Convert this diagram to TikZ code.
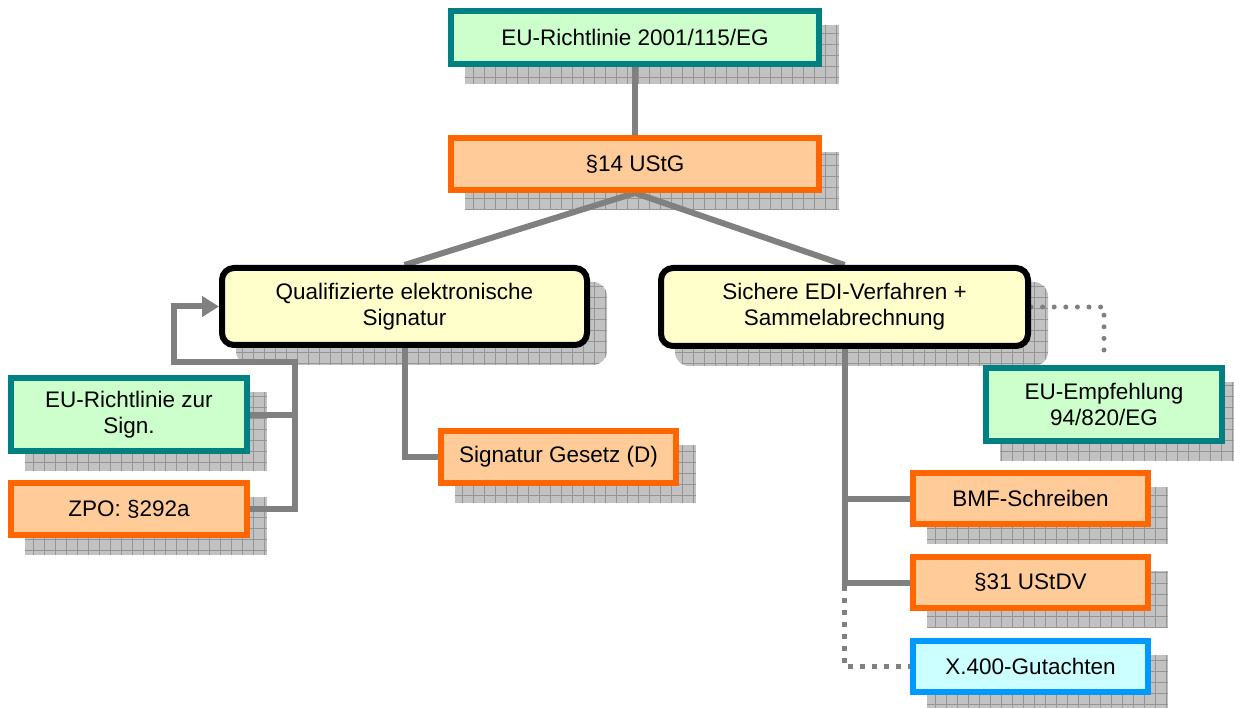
\documentclass[tikz,border=0pt]{standalone}
\usepackage{fontspec}
\setmainfont{Liberation Sans}
\usetikzlibrary{arrows.meta}
\definecolor{tealb}{HTML}{008080}
\definecolor{greenf}{HTML}{CCFFCC}
\definecolor{orangeb}{HTML}{FF6600}
\definecolor{orangef}{HTML}{FFCC99}
\definecolor{yellowf}{HTML}{FFFFCC}
\definecolor{blueb}{HTML}{0099FF}
\definecolor{cyanf}{HTML}{CCFFFF}
\definecolor{conngray}{HTML}{808080}
\definecolor{shadowf}{HTML}{C2C2C2}
\definecolor{gridgray}{HTML}{959595}
\pgfdeclarelayer{bg}
\pgfdeclarelayer{mid}
\pgfsetlayers{bg,mid,main}
\begin{document}
\begin{tikzpicture}[x=1pt,y=-1pt,
  box/.style={draw, line width=6pt, inner sep=0pt, align=center,
    font=\fontsize{22.5}{26}\selectfont},
  greenbox/.style={box, draw=tealb, fill=greenf},
  orangebox/.style={box, draw=orangeb, fill=orangef},
  yellowbox/.style={box, draw=black, fill=yellowf, rounded corners=12pt},
  cyanbox/.style={box, draw=blueb, fill=cyanf},
  shadowbox/.style={fill=shadowf,
    path picture={\draw[gridgray, line width=0.8pt, step=11pt]
      (path picture bounding box.south west) grid (path picture bounding box.north east);}},
  conn/.style={draw=conngray, line width=6pt},
  squaredots/.style={draw=conngray, line width=5pt, dash pattern=on 5pt off 7pt},
  rounddots/.style={draw=conngray, line width=5pt, line cap=round, dash pattern=on 0pt off 11.6pt},
]
\useasboundingbox (0,0) rectangle (1234,708);

% nodes
\node[greenbox, minimum width=368pt, minimum height=53pt] (eu) at (635,37.5) {EU-Richtlinie 2001/115/EG};
\node[orangebox, minimum width=368pt, minimum height=52pt] (p14) at (635,164) {§14 UStG};
\node[yellowbox, minimum width=365pt, minimum height=77pt] (qual) at (404.5,306.5) {Qualifizierte elektronische\\Signatur};
\node[yellowbox, minimum width=367pt, minimum height=78pt] (sich) at (844.5,307) {Sichere EDI-Verfahren +\\Sammelabrechnung};
\node[greenbox, minimum width=236pt, minimum height=73pt] (eusign) at (129,414.5) {EU-Richtlinie zur\\Sign.};
\node[orangebox, minimum width=236pt, minimum height=52pt] (zpo) at (129,509) {ZPO: §292a};
\node[orangebox, minimum width=235pt, minimum height=52pt] (sig) at (558.5,457) {Signatur Gesetz (D)};
\node[greenbox, minimum width=236pt, minimum height=73pt] (euemp) at (1104,404.5) {EU-Empfehlung\\94/820/EG};
\node[orangebox, minimum width=235pt, minimum height=51pt] (bmf) at (1030.5,498.5) {BMF-Schreiben};
\node[orangebox, minimum width=235pt, minimum height=51pt] (s31) at (1030.5,582.5) {§31 UStDV};
\node[cyanbox, minimum width=235pt, minimum height=51pt] (xg) at (1030.5,666.5) {X.400-Gutachten};

% shadows
\begin{pgfonlayer}{bg}
\foreach \n in {eu,p14,eusign,zpo,sig,euemp,bmf,s31,xg}
  \path[shadowbox] ([shift={(17,17)}]\n.north west) rectangle ([shift={(17,17)}]\n.south east);
\foreach \n in {qual,sich}
  \path[shadowbox, rounded corners=14pt] ([shift={(17,17)}]\n.north west) rectangle ([shift={(17,17)}]\n.south east);
\end{pgfonlayer}

% connectors
\coordinate (j1) at (295,362);
\coordinate (j2) at (174,362);
\begin{pgfonlayer}{mid}
\draw[conn] (eu.south) -- (p14.north);
\draw[conn] (p14.south) -- (qual.north);
\draw[conn] (p14.south) -- (sich.north);
\draw[conn] (qual.south) |- (sig.west);
\draw[conn, -{Triangle[length=17pt,width=20pt]}] (zpo.east) -| (j1) -- (j2) |- (qual.west);
\draw[conn] (eusign.east) -- (eusign.east -| j1);
\draw[conn] (sich.south) |- (s31.west);
\draw[conn] (sich.south |- bmf.west) -- (bmf.west);
\draw[squaredots] ([yshift=-3pt]sich.south |- s31.west) |- (xg.west);
\draw[rounddots, shorten >=11pt] (sich.east) -| (euemp.north);
\end{pgfonlayer}
\end{tikzpicture}
\end{document}
